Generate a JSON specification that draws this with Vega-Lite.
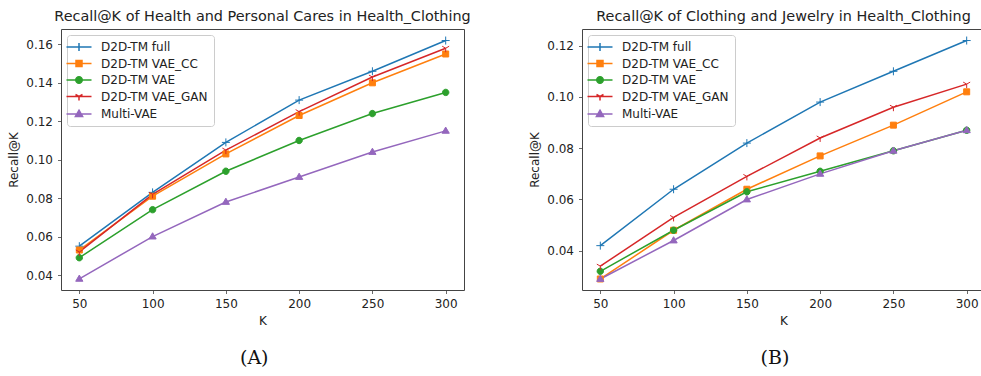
{
  "$schema": "https://vega.github.io/schema/vega-lite/v6.json",
  "padding": {"left": 7, "top": 8, "right": 0, "bottom": 0},
  "background": "white",
  "datasets": {
    "A": [
      {"K": 50, "series": "D2D-TM full", "recall": 0.055},
      {"K": 100, "series": "D2D-TM full", "recall": 0.083},
      {"K": 150, "series": "D2D-TM full", "recall": 0.109},
      {"K": 200, "series": "D2D-TM full", "recall": 0.131},
      {"K": 250, "series": "D2D-TM full", "recall": 0.146},
      {"K": 300, "series": "D2D-TM full", "recall": 0.162},
      {"K": 50, "series": "D2D-TM VAE_CC", "recall": 0.053},
      {"K": 100, "series": "D2D-TM VAE_CC", "recall": 0.081},
      {"K": 150, "series": "D2D-TM VAE_CC", "recall": 0.103},
      {"K": 200, "series": "D2D-TM VAE_CC", "recall": 0.123},
      {"K": 250, "series": "D2D-TM VAE_CC", "recall": 0.140},
      {"K": 300, "series": "D2D-TM VAE_CC", "recall": 0.155},
      {"K": 50, "series": "D2D-TM VAE", "recall": 0.049},
      {"K": 100, "series": "D2D-TM VAE", "recall": 0.074},
      {"K": 150, "series": "D2D-TM VAE", "recall": 0.094},
      {"K": 200, "series": "D2D-TM VAE", "recall": 0.110},
      {"K": 250, "series": "D2D-TM VAE", "recall": 0.124},
      {"K": 300, "series": "D2D-TM VAE", "recall": 0.135},
      {"K": 50, "series": "D2D-TM VAE_GAN", "recall": 0.052},
      {"K": 100, "series": "D2D-TM VAE_GAN", "recall": 0.082},
      {"K": 150, "series": "D2D-TM VAE_GAN", "recall": 0.105},
      {"K": 200, "series": "D2D-TM VAE_GAN", "recall": 0.125},
      {"K": 250, "series": "D2D-TM VAE_GAN", "recall": 0.143},
      {"K": 300, "series": "D2D-TM VAE_GAN", "recall": 0.158},
      {"K": 50, "series": "Multi-VAE", "recall": 0.038},
      {"K": 100, "series": "Multi-VAE", "recall": 0.060},
      {"K": 150, "series": "Multi-VAE", "recall": 0.078},
      {"K": 200, "series": "Multi-VAE", "recall": 0.091},
      {"K": 250, "series": "Multi-VAE", "recall": 0.104},
      {"K": 300, "series": "Multi-VAE", "recall": 0.115}
    ],
    "B": [
      {"K": 50, "series": "D2D-TM full", "recall": 0.042},
      {"K": 100, "series": "D2D-TM full", "recall": 0.064},
      {"K": 150, "series": "D2D-TM full", "recall": 0.082},
      {"K": 200, "series": "D2D-TM full", "recall": 0.098},
      {"K": 250, "series": "D2D-TM full", "recall": 0.110},
      {"K": 300, "series": "D2D-TM full", "recall": 0.122},
      {"K": 50, "series": "D2D-TM VAE_CC", "recall": 0.029},
      {"K": 100, "series": "D2D-TM VAE_CC", "recall": 0.048},
      {"K": 150, "series": "D2D-TM VAE_CC", "recall": 0.064},
      {"K": 200, "series": "D2D-TM VAE_CC", "recall": 0.077},
      {"K": 250, "series": "D2D-TM VAE_CC", "recall": 0.089},
      {"K": 300, "series": "D2D-TM VAE_CC", "recall": 0.102},
      {"K": 50, "series": "D2D-TM VAE", "recall": 0.032},
      {"K": 100, "series": "D2D-TM VAE", "recall": 0.048},
      {"K": 150, "series": "D2D-TM VAE", "recall": 0.063},
      {"K": 200, "series": "D2D-TM VAE", "recall": 0.071},
      {"K": 250, "series": "D2D-TM VAE", "recall": 0.079},
      {"K": 300, "series": "D2D-TM VAE", "recall": 0.087},
      {"K": 50, "series": "D2D-TM VAE_GAN", "recall": 0.034},
      {"K": 100, "series": "D2D-TM VAE_GAN", "recall": 0.053},
      {"K": 150, "series": "D2D-TM VAE_GAN", "recall": 0.069},
      {"K": 200, "series": "D2D-TM VAE_GAN", "recall": 0.084},
      {"K": 250, "series": "D2D-TM VAE_GAN", "recall": 0.096},
      {"K": 300, "series": "D2D-TM VAE_GAN", "recall": 0.105},
      {"K": 50, "series": "Multi-VAE", "recall": 0.029},
      {"K": 100, "series": "Multi-VAE", "recall": 0.044},
      {"K": 150, "series": "Multi-VAE", "recall": 0.060},
      {"K": 200, "series": "Multi-VAE", "recall": 0.070},
      {"K": 250, "series": "Multi-VAE", "recall": 0.079},
      {"K": 300, "series": "Multi-VAE", "recall": 0.087}
    ]
  },
  "hconcat": [
    {
      "title": {"text": "(A)", "orient": "bottom", "anchor": "middle", "font": "DejaVu Serif", "fontSize": 19, "fontWeight": "normal", "color": "#111", "offset": 22, "dx": 15},
      "vconcat": [
        {
          "width": 403,
          "height": 261,
          "title": {"text": "Recall@K of Health and Personal Cares in Health_Clothing", "offset": 5},
          "data": {"name": "A"},
          "encoding": {
            "x": {"field": "K", "type": "quantitative", "scale": {"domain": [37.5, 312.5], "nice": false, "zero": false}, "axis": {"values": [50, 100, 150, 200, 250, 300], "title": "K"}},
            "y": {"field": "recall", "type": "quantitative", "scale": {"domain": [0.0322, 0.168], "nice": false, "zero": false}, "axis": {"values": [0.04, 0.06, 0.08, 0.1, 0.12, 0.14, 0.16], "format": ".2f", "title": "Recall@K"}}
          },
          "layer": [
            {
              "mark": {"type": "line", "strokeWidth": 1.5},
              "encoding": {
                "color": {"field": "series", "type": "nominal", "scale": {"domain": ["D2D-TM full", "D2D-TM VAE_CC", "D2D-TM VAE", "D2D-TM VAE_GAN", "Multi-VAE"], "range": ["#1f77b4", "#ff7f0e", "#2ca02c", "#d62728", "#9467bd"]}, "legend": null}
              }
            },
            {
              "mark": {"type": "point", "size": 64, "strokeWidth": 1, "opacity": 1},
              "encoding": {
                "shape": {"field": "series", "type": "nominal", "scale": {"domain": ["D2D-TM full", "D2D-TM VAE_CC", "D2D-TM VAE", "D2D-TM VAE_GAN", "Multi-VAE"], "range": ["M-1,0H1M0,-1V1", "M-0.75,-0.75H0.75V0.75H-0.75Z", "M-0.8,0A0.8,0.8,0,1,0,0.8,0A0.8,0.8,0,1,0,-0.8,0Z", "M0,0V1M0,0L-0.87,-0.5M0,0L0.87,-0.5", "M0,-0.95L0.9,0.6L-0.9,0.6Z"]}, "legend": null},
                "fill": {"field": "series", "type": "nominal", "scale": {"domain": ["D2D-TM full", "D2D-TM VAE_CC", "D2D-TM VAE", "D2D-TM VAE_GAN", "Multi-VAE"], "range": ["#1f77b4", "#ff7f0e", "#2ca02c", "#d62728", "#9467bd"]}, "legend": null},
                "stroke": {"field": "series", "type": "nominal", "scale": {"domain": ["D2D-TM full", "D2D-TM VAE_CC", "D2D-TM VAE", "D2D-TM VAE_GAN", "Multi-VAE"], "range": ["#1f77b4", "#ff7f0e", "#2ca02c", "#d62728", "#9467bd"]}, "legend": null}
              }
            },
            {
              "transform": [{"filter": "false"}],
              "mark": {"type": "point", "size": 64, "opacity": 1},
              "encoding": {
                "shape": {"field": "series", "type": "nominal", "scale": {"domain": ["D2D-TM full", "D2D-TM VAE_CC", "D2D-TM VAE", "D2D-TM VAE_GAN", "Multi-VAE"], "range": ["M-2.5,0H2.5M-0.8,0H0.8M0,-0.8V0.8", "M-2.5,0H2.5M-0.6,-0.6H0.6V0.6H-0.6Z", "M-2.5,0H2.5M-0.65,0A0.65,0.65,0,1,0,0.65,0A0.65,0.65,0,1,0,-0.65,0Z", "M-2.5,0H2.5M0,0V0.8M0,0L-0.7,-0.4M0,0L0.7,-0.4", "M-2.5,0H2.5M0,-0.76L0.72,0.5L-0.72,0.5Z"]},
                  "legend": {"orient": "top-left", "offset": 6, "title": null, "symbolSize": 100, "symbolStrokeWidth": 1.5, "symbolOpacity": 1, "labelFont": "DejaVu Sans", "labelFontSize": 12, "labelColor": "#222", "labelOffset": 16, "padding": 6, "rowPadding": 3.5, "fillColor": "white", "strokeColor": "#cccccc", "cornerRadius": 3}},
                "fill": {"field": "series", "type": "nominal", "scale": {"domain": ["D2D-TM full", "D2D-TM VAE_CC", "D2D-TM VAE", "D2D-TM VAE_GAN", "Multi-VAE"], "range": ["#1f77b4", "#ff7f0e", "#2ca02c", "#d62728", "#9467bd"]},
                  "legend": {"orient": "top-left", "offset": 6, "title": null, "symbolSize": 100, "symbolStrokeWidth": 1.5, "symbolOpacity": 1, "labelFont": "DejaVu Sans", "labelFontSize": 12, "labelColor": "#222", "labelOffset": 16, "padding": 6, "rowPadding": 3.5, "fillColor": "white", "strokeColor": "#cccccc", "cornerRadius": 3}},
                "stroke": {"field": "series", "type": "nominal", "scale": {"domain": ["D2D-TM full", "D2D-TM VAE_CC", "D2D-TM VAE", "D2D-TM VAE_GAN", "Multi-VAE"], "range": ["#1f77b4", "#ff7f0e", "#2ca02c", "#d62728", "#9467bd"]},
                  "legend": {"orient": "top-left", "offset": 6, "title": null, "symbolSize": 100, "symbolStrokeWidth": 1.5, "symbolOpacity": 1, "labelFont": "DejaVu Sans", "labelFontSize": 12, "labelColor": "#222", "labelOffset": 16, "padding": 6, "rowPadding": 3.5, "fillColor": "white", "strokeColor": "#cccccc", "cornerRadius": 3}}
              }
            }
          ],
          "resolve": {"scale": {"shape": "independent", "fill": "independent", "stroke": "independent"}}
        }
      ]
    },
    {
      "title": {"text": "(B)", "orient": "bottom", "anchor": "middle", "font": "DejaVu Serif", "fontSize": 19, "fontWeight": "normal", "color": "#111", "offset": 22, "dx": 18},
      "vconcat": [
        {
          "width": 403,
          "height": 261,
          "title": {"text": "Recall@K of Clothing and Jewelry in Health_Clothing", "offset": 5},
          "data": {"name": "B"},
          "encoding": {
            "x": {"field": "K", "type": "quantitative", "scale": {"domain": [37.5, 312.5], "nice": false, "zero": false}, "axis": {"values": [50, 100, 150, 200, 250, 300], "title": "K"}},
            "y": {"field": "recall", "type": "quantitative", "scale": {"domain": [0.0247, 0.1265], "nice": false, "zero": false}, "axis": {"values": [0.04, 0.06, 0.08, 0.1, 0.12], "format": ".2f", "title": "Recall@K"}}
          },
          "layer": [
            {
              "mark": {"type": "line", "strokeWidth": 1.5},
              "encoding": {
                "color": {"field": "series", "type": "nominal", "scale": {"domain": ["D2D-TM full", "D2D-TM VAE_CC", "D2D-TM VAE", "D2D-TM VAE_GAN", "Multi-VAE"], "range": ["#1f77b4", "#ff7f0e", "#2ca02c", "#d62728", "#9467bd"]}, "legend": null}
              }
            },
            {
              "mark": {"type": "point", "size": 64, "strokeWidth": 1, "opacity": 1},
              "encoding": {
                "shape": {"field": "series", "type": "nominal", "scale": {"domain": ["D2D-TM full", "D2D-TM VAE_CC", "D2D-TM VAE", "D2D-TM VAE_GAN", "Multi-VAE"], "range": ["M-1,0H1M0,-1V1", "M-0.75,-0.75H0.75V0.75H-0.75Z", "M-0.8,0A0.8,0.8,0,1,0,0.8,0A0.8,0.8,0,1,0,-0.8,0Z", "M0,0V1M0,0L-0.87,-0.5M0,0L0.87,-0.5", "M0,-0.95L0.9,0.6L-0.9,0.6Z"]}, "legend": null},
                "fill": {"field": "series", "type": "nominal", "scale": {"domain": ["D2D-TM full", "D2D-TM VAE_CC", "D2D-TM VAE", "D2D-TM VAE_GAN", "Multi-VAE"], "range": ["#1f77b4", "#ff7f0e", "#2ca02c", "#d62728", "#9467bd"]}, "legend": null},
                "stroke": {"field": "series", "type": "nominal", "scale": {"domain": ["D2D-TM full", "D2D-TM VAE_CC", "D2D-TM VAE", "D2D-TM VAE_GAN", "Multi-VAE"], "range": ["#1f77b4", "#ff7f0e", "#2ca02c", "#d62728", "#9467bd"]}, "legend": null}
              }
            },
            {
              "transform": [{"filter": "false"}],
              "mark": {"type": "point", "size": 64, "opacity": 1},
              "encoding": {
                "shape": {"field": "series", "type": "nominal", "scale": {"domain": ["D2D-TM full", "D2D-TM VAE_CC", "D2D-TM VAE", "D2D-TM VAE_GAN", "Multi-VAE"], "range": ["M-2.5,0H2.5M-0.8,0H0.8M0,-0.8V0.8", "M-2.5,0H2.5M-0.6,-0.6H0.6V0.6H-0.6Z", "M-2.5,0H2.5M-0.65,0A0.65,0.65,0,1,0,0.65,0A0.65,0.65,0,1,0,-0.65,0Z", "M-2.5,0H2.5M0,0V0.8M0,0L-0.7,-0.4M0,0L0.7,-0.4", "M-2.5,0H2.5M0,-0.76L0.72,0.5L-0.72,0.5Z"]},
                  "legend": {"orient": "top-left", "offset": 6, "title": null, "symbolSize": 100, "symbolStrokeWidth": 1.5, "symbolOpacity": 1, "labelFont": "DejaVu Sans", "labelFontSize": 12, "labelColor": "#222", "labelOffset": 16, "padding": 6, "rowPadding": 3.5, "fillColor": "white", "strokeColor": "#cccccc", "cornerRadius": 3}},
                "fill": {"field": "series", "type": "nominal", "scale": {"domain": ["D2D-TM full", "D2D-TM VAE_CC", "D2D-TM VAE", "D2D-TM VAE_GAN", "Multi-VAE"], "range": ["#1f77b4", "#ff7f0e", "#2ca02c", "#d62728", "#9467bd"]},
                  "legend": {"orient": "top-left", "offset": 6, "title": null, "symbolSize": 100, "symbolStrokeWidth": 1.5, "symbolOpacity": 1, "labelFont": "DejaVu Sans", "labelFontSize": 12, "labelColor": "#222", "labelOffset": 16, "padding": 6, "rowPadding": 3.5, "fillColor": "white", "strokeColor": "#cccccc", "cornerRadius": 3}},
                "stroke": {"field": "series", "type": "nominal", "scale": {"domain": ["D2D-TM full", "D2D-TM VAE_CC", "D2D-TM VAE", "D2D-TM VAE_GAN", "Multi-VAE"], "range": ["#1f77b4", "#ff7f0e", "#2ca02c", "#d62728", "#9467bd"]},
                  "legend": {"orient": "top-left", "offset": 6, "title": null, "symbolSize": 100, "symbolStrokeWidth": 1.5, "symbolOpacity": 1, "labelFont": "DejaVu Sans", "labelFontSize": 12, "labelColor": "#222", "labelOffset": 16, "padding": 6, "rowPadding": 3.5, "fillColor": "white", "strokeColor": "#cccccc", "cornerRadius": 3}}
              }
            }
          ],
          "resolve": {"scale": {"shape": "independent", "fill": "independent", "stroke": "independent"}}
        }
      ]
    }
  ],
  "spacing": 56,
  "config": {
    "font": "DejaVu Sans",
    "view": {"stroke": "#444", "strokeWidth": 1},
    "axis": {"domain": false, "grid": false, "ticks": true, "tickColor": "#444", "tickSize": 3.5, "tickWidth": 0.8, "labelFont": "DejaVu Sans", "labelFontSize": 12, "labelColor": "#222", "labelPadding": 5, "titleFont": "DejaVu Sans", "titleFontSize": 12, "titleFontWeight": "normal", "titleColor": "#222"},
    "axisX": {"labelAngle": 0, "titlePadding": 6},
    "axisY": {"titlePadding": 5},
    "title": {"font": "DejaVu Sans", "fontSize": 14.4, "fontWeight": "normal", "color": "#222"},
    "concat": {"spacing": 56}
  }
}
